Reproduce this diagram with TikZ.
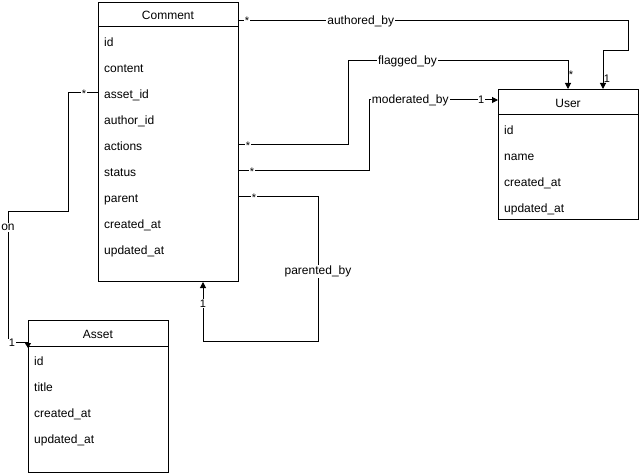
\documentclass[tikz,border=0pt]{standalone}
\usepackage{fontspec}
\setmainfont{Liberation Sans}
\usetikzlibrary{arrows.meta}
\begin{document}
\begin{tikzpicture}[x=1pt,y=-1pt,
  ent/.style={draw,line width=1pt,anchor=north west,inner sep=0pt},
  hdr/.style={line width=1pt},
  ttl/.style={font=\fontsize{12}{14}\selectfont,inner sep=0pt,text height=9pt,text depth=3pt},
  attr/.style={font=\fontsize{12}{14}\selectfont,anchor=west,inner sep=0pt,text height=9pt,text depth=3pt},
  rel/.style={line width=1pt},
  lbl/.style={font=\fontsize{12}{14}\selectfont,fill=white,inner sep=1pt},
  mult/.style={font=\fontsize{11}{13}\selectfont,inner sep=0.6pt,fill=white},
  multn/.style={font=\fontsize{11}{13}\selectfont,inner sep=0.6pt},
  tip/.style={-{Triangle[length=6pt,width=6pt]}}
]
\useasboundingbox (0,0) rectangle (640,473);

% Comment
\node[ent,minimum width=140pt,minimum height=279pt] (comment) at (98,2) {};
\draw[hdr] ([yshift=-25pt]comment.north west) -- ([yshift=-25pt]comment.north east);
\node[ttl] (commentT) at (168,16.5) {Comment};
\node[attr] (c-id) at (104,43.5) {id};
\node[attr] (c-content) at (104,69.5) {content};
\node[attr] (c-asset) at (104,95.5) {asset\_id};
\node[attr] (c-author) at (104,121.5) {author\_id};
\node[attr] (c-actions) at (104,147.5) {actions};
\node[attr] (c-status) at (104,173.5) {status};
\node[attr] (c-parent) at (104,199.5) {parent};
\node[attr] (c-created) at (104,225.5) {created\_at};
\node[attr] (c-updated) at (104,251.5) {updated\_at};

% User
\node[ent,minimum width=140pt,minimum height=130pt] (user) at (498,89) {};
\draw[hdr] ([yshift=-26pt]user.north west) -- ([yshift=-26pt]user.north east);
\node[ttl] (userT) at (568,104.5) {User};
\node[attr] (u-id) at (504,131.5) {id};
\node[attr] (u-name) at (504,157.5) {name};
\node[attr] (u-created) at (504,183.5) {created\_at};
\node[attr] (u-updated) at (504,209.5) {updated\_at};

% Asset
\node[ent,minimum width=140pt,minimum height=152pt] (asset) at (28,320) {};
\draw[hdr] ([yshift=-26pt]asset.north west) -- ([yshift=-26pt]asset.north east);
\node[ttl] (assetT) at (98,335.5) {Asset};
\node[attr] (a-id) at (34,362.5) {id};
\node[attr] (a-title) at (34,388.5) {title};
\node[attr] (a-created) at (34,414.5) {created\_at};
\node[attr] (a-updated) at (34,440.5) {updated\_at};

% authored_by
\draw[rel,tip] ([yshift=-19pt]comment.north east) -- node[lbl,pos=0.313] (lAuth) {authored\_by} (628,21) -- (628,51) -- (603,51) -- (603,51 |- user.north);
\node[mult] (mAuth1) at (247,20.5) {*};
\node[multn] (mAuth2) at (607,79) {1};

% flagged_by
\draw[rel,tip] (comment.east |- 0,145) -- (348,145) -- (348,61) -- node[lbl,pos=0.27] (lFlag) {flagged\_by} (568,61) -- (568,61 |- user.north);
\node[mult] (mFlag1) at (248,145.5) {*};
\node[multn] (mFlag2) at (571,75) {*};

% moderated_by
\draw[rel,tip] (comment.east |- 0,171) -- (369,171) -- (369,100) -- node[lbl,pos=0.32] (lMod) {moderated\_by} node[mult,pos=0.87] (mMod2) {1} (user.west |- 369,100);
\node[mult] (mMod1) at (252,171.5) {*};

% parented_by
\draw[rel,tip] (comment.east |- 0,197) -- (318,197) -- node[lbl,pos=0.52] (lPar) {parented\_by} (318,341) -- (203,341) -- node[mult,pos=0.63] (mPar2) {1} (203,341 |- comment.south);
\node[mult] (mPar1) at (254,197.5) {*};

% on
\draw[rel,-{Triangle[length=5pt,width=6pt]}] (comment.west |- 0,93) -- (68,93) -- (68,212) -- (8,212) -- node[lbl,pos=0.12] (lOn) {on} (8,342) -- (28,342) -- (28,348);
\node[mult] (mOn1) at (84,93.5) {*};
\node[mult] (mOn2) at (12,343) {1};

\end{tikzpicture}
\end{document}
